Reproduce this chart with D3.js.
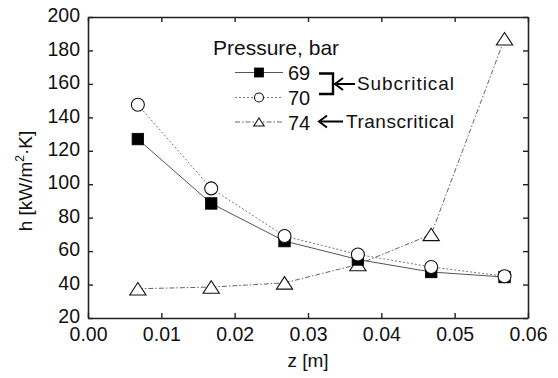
<!DOCTYPE html>
<html>
<head>
<meta charset="utf-8">
<script src="https://cdn.jsdelivr.net/npm/d3@7"></script>
<style>
  html, body { margin: 0; padding: 0; background: #fff; }
  svg { display: block; }
  text { font-family: "Liberation Sans", Arial, sans-serif; fill: #111; }
</style>
</head>
<body>
<svg id="chart" width="558" height="378"></svg>
<script>
// Axial position along the tube [m]
const zPositions = [0.0068, 0.0168, 0.0268, 0.0368, 0.0468, 0.0568];
// Heat transfer coefficient h [kW/m2·K] per pressure
const h69 = [127, 88.5, 66, 55, 47.5, 44.5];
const h70 = [147.5, 97.5, 69, 58, 50.5, 45];
const h74 = [37.5, 38.5, 41, 52, 70, 187];
const pressures = ["69", "70", "74"];
const xTicks = [0.00, 0.01, 0.02, 0.03, 0.04, 0.05, 0.06];
const yTicks = [20, 40, 60, 80, 100, 120, 140, 160, 180, 200];

const svg = d3.select("#chart");
const M = { left: 88, right: 528, top: 17, bottom: 318 };

const x = d3.scaleLinear().domain([0, 0.06]).range([M.left, M.right]);
const y = d3.scaleLinear().domain([20, 200]).range([M.bottom, M.top]);

const axisColor = "#222";
const tickLen = 5;
const tickFont = 19.5;

// Axes with inward ticks on all four sides
const gB = svg.append("g").attr("transform", `translate(0,${M.bottom})`)
  .call(d3.axisBottom(x).tickValues(xTicks).tickFormat(d3.format(".2f")).tickSizeInner(-tickLen).tickSizeOuter(0).tickPadding(9));
const gT = svg.append("g").attr("transform", `translate(0,${M.top})`)
  .call(d3.axisTop(x).tickValues(xTicks).tickFormat("").tickSizeInner(-tickLen).tickSizeOuter(0));
const gL = svg.append("g").attr("transform", `translate(${M.left},0)`)
  .call(d3.axisLeft(y).tickValues(yTicks).tickFormat(d3.format("d")).tickSizeInner(-tickLen).tickSizeOuter(0).tickPadding(8));
const gR = svg.append("g").attr("transform", `translate(${M.right},0)`)
  .call(d3.axisRight(y).tickValues(yTicks).tickFormat("").tickSizeInner(-tickLen).tickSizeOuter(0));

[gB, gT, gL, gR].forEach(g => {
  g.select(".domain").attr("stroke", axisColor).attr("stroke-width", 1.6);
  g.selectAll(".tick line").attr("stroke", axisColor).attr("stroke-width", 1.4);
  g.selectAll(".tick text").attr("font-size", tickFont).attr("fill", "#111")
    .attr("font-family", "'Liberation Sans', Arial, sans-serif");
});
gB.selectAll(".tick text").attr("dy", "0.72em");
gL.selectAll(".tick text").attr("dy", "0.24em");

// Axis titles
svg.append("text").attr("x", (M.left + M.right) / 2).attr("y", 367)
  .attr("text-anchor", "middle").attr("font-size", 19).text("z [m]");

const yt = svg.append("text")
  .attr("transform", "translate(32,181) rotate(-90)")
  .attr("text-anchor", "middle").attr("font-size", 19);
yt.append("tspan").text("h [kW/m");
yt.append("tspan").attr("font-size", 12).attr("dy", -8).text("2");
yt.append("tspan").attr("dy", 8).text("·K]");

// Series definitions
const series = [
  { name: pressures[0], values: h69, dash: null, stroke: "#555", marker: "square" },
  { name: pressures[1], values: h70, dash: "2,2", stroke: "#777", marker: "circle" },
  { name: pressures[2], values: h74, dash: "5,2,1.5,2", stroke: "#666", marker: "triangle" }
];

const line = d3.line().x((d, i) => x(zPositions[i])).y(d => y(d));

function drawMarker(g, type, cx, cy, s) {
  if (type === "square") {
    g.append("rect").attr("x", cx - s / 2).attr("y", cy - s / 2).attr("width", s).attr("height", s)
      .attr("fill", "#000").attr("stroke", "#000").attr("stroke-width", 0.8);
  } else if (type === "circle") {
    g.append("circle").attr("cx", cx).attr("cy", cy).attr("r", s / 2)
      .attr("fill", "#fff").attr("stroke", "#111").attr("stroke-width", 1.1);
  } else {
    const w = s * 1.3, hgt = s * 1.0;
    g.append("path")
      .attr("d", `M${cx - w / 2},${cy + hgt / 2}L${cx + w / 2},${cy + hgt / 2}L${cx},${cy - hgt / 2}Z`)
      .attr("fill", "#fff").attr("stroke", "#111").attr("stroke-width", 1.1);
  }
}

// Lines first, then markers on top (order: 74, 69, 70)
series.forEach(s => {
  svg.append("path").datum(s.values).attr("d", line)
    .attr("fill", "none").attr("stroke", s.stroke).attr("stroke-width", 1)
    .attr("stroke-dasharray", s.dash);
});
const markerSizes = { square: 11.5, circle: 13, triangle: 12.5 };
[series[2], series[0], series[1]].forEach(s => {
  const g = svg.append("g");
  s.values.forEach((v, i) => drawMarker(g, s.marker, x(zPositions[i]), y(v), markerSizes[s.marker]));
});

// Legend
svg.append("text").attr("x", 213).attr("y", 55).attr("font-size", 21).text("Pressure, bar");
const legY = [72.5, 97.5, 122];
const legMarker = { square: 9, circle: 9, triangle: 8 };
series.forEach((s, i) => {
  const ly = legY[i];
  svg.append("line").attr("x1", 235).attr("x2", 283).attr("y1", ly).attr("y2", ly)
    .attr("stroke", s.stroke).attr("stroke-width", 1).attr("stroke-dasharray", s.dash);
  drawMarker(svg, s.marker, 259, ly, legMarker[s.marker]);
  svg.append("text").attr("x", 288).attr("y", ly + 7.5).attr("font-size", 20).text(s.name);
});

// Bracket grouping the subcritical pressures
svg.append("path").attr("d", "M319,73.5H333V94H319")
  .attr("fill", "none").attr("stroke", "#000").attr("stroke-width", 2.4);

function arrow(x1, x2, yy) {
  svg.append("line").attr("x1", x1 + 2).attr("x2", x2).attr("y1", yy).attr("y2", yy)
    .attr("stroke", "#000").attr("stroke-width", 2);
  svg.append("path").attr("d", `M${x1 + 8},${yy - 6}L${x1},${yy}L${x1 + 8},${yy + 6}`)
    .attr("fill", "none").attr("stroke", "#000").attr("stroke-width", 2);
}
arrow(335, 355, 84);
arrow(319, 343, 121.5);

svg.append("text").attr("x", 357).attr("y", 90).attr("font-size", 19)
  .attr("font-family", "'Open Sans', sans-serif").attr("textLength", 97).text("Subcritical");
svg.append("text").attr("x", 346).attr("y", 127.5).attr("font-size", 19)
  .attr("font-family", "'Open Sans', sans-serif").attr("textLength", 108).text("Transcritical");
</script>
</body>
</html>
